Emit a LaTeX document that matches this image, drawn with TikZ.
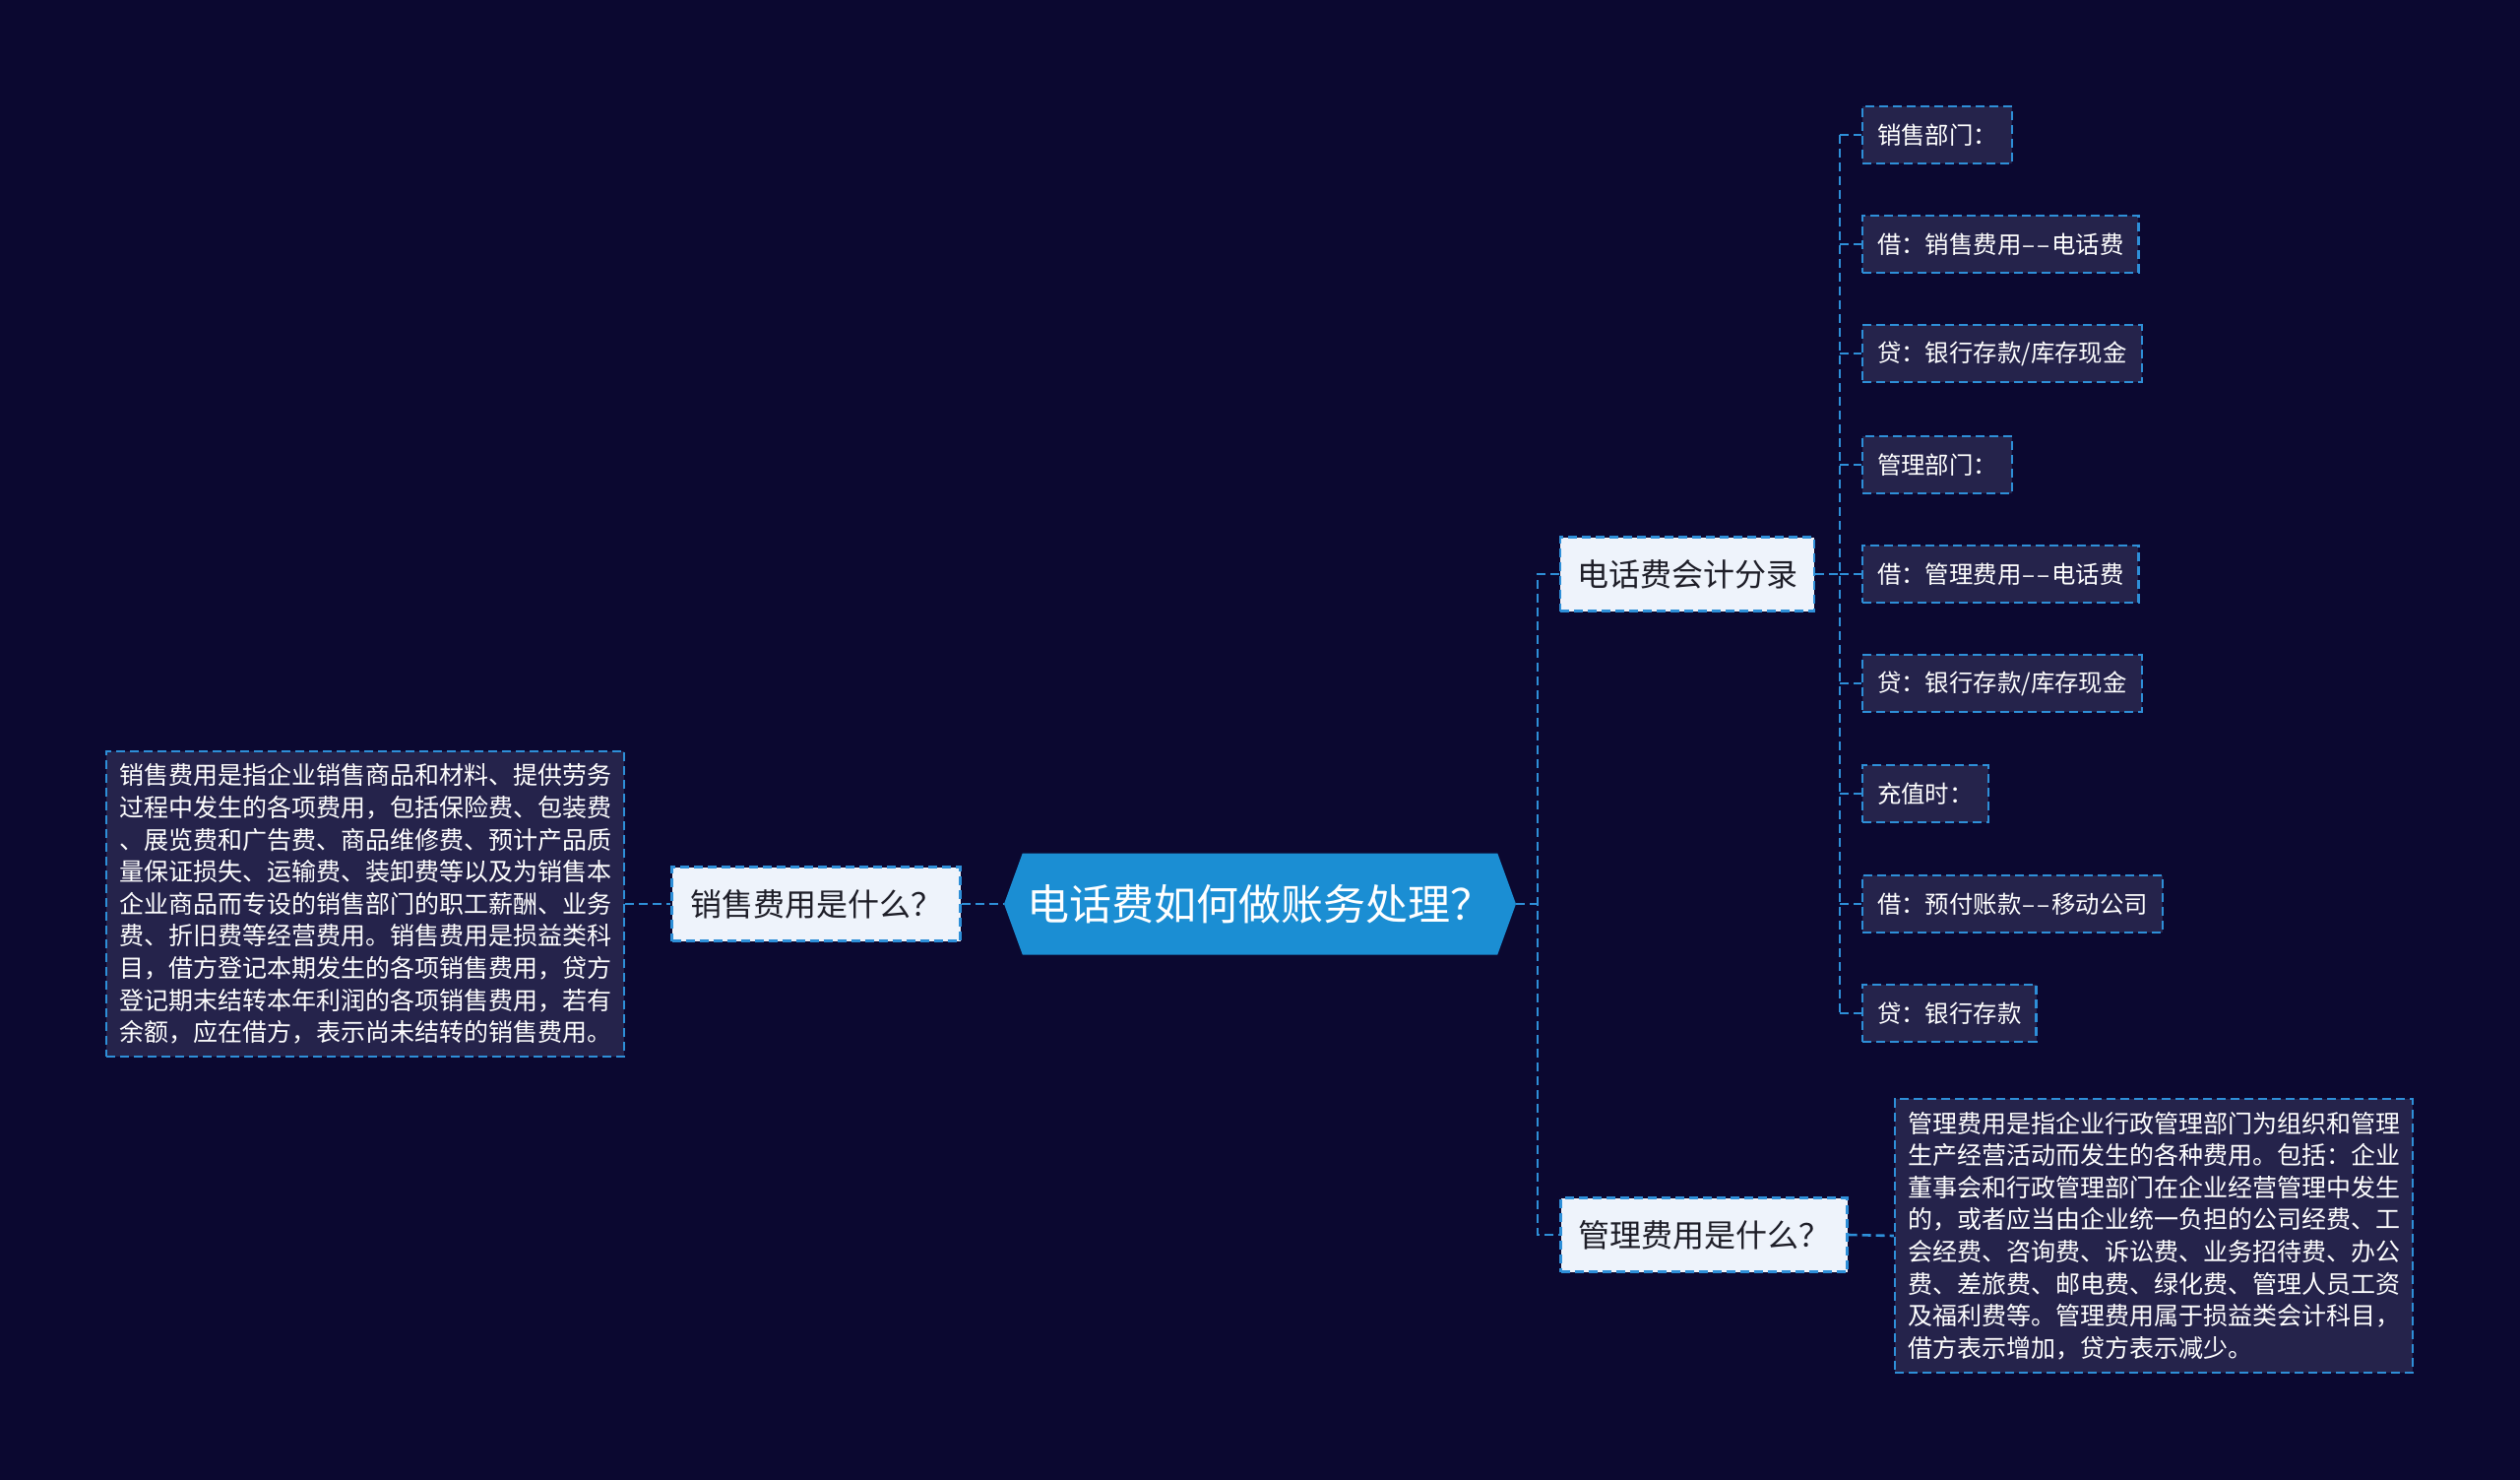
\documentclass[tikz,border=0pt]{standalone}
\usepackage{fontspec}
\setmainfont{Noto Sans CJK SC}
\usepackage{tikz}
\usetikzlibrary{shapes.symbols}
\definecolor{colorNavy}{HTML}{0B0830}
\definecolor{colorRoot}{HTML}{1B8ED3}
\definecolor{colorLink}{HTML}{2E8FD8}
\definecolor{colorPale}{HTML}{EEF3FB}
\definecolor{colorBox}{HTML}{25234B}
\definecolor{colorInk}{HTML}{1E1E28}
\newcommand{\dbldash}{\kern0.5pt\textendash\kern0.8pt\textendash\kern1pt}

\begin{document}
\begin{tikzpicture}[x=0.5pt, y=-0.5pt,
  link/.style={colorLink, line width=1.3pt, dash pattern=on 4.5pt off 2.5pt},
  palebox/.style={draw=colorLink, fill=colorPale, text=colorInk, line width=1.1pt,
    dash pattern=on 4.5pt off 2.5pt, minimum height=37.5pt, inner xsep=0pt,
    font={\fontsize{16pt}{19pt}\selectfont}},
  leafbox/.style={draw=colorLink, fill=colorBox, text=white, line width=1.1pt,
    dash pattern=on 4.5pt off 2.5pt, anchor=west, minimum height=29pt, inner xsep=7.5pt,
    font={\fontsize{12.2pt}{14pt}\selectfont}},
  notebox/.style={draw=colorLink, fill=colorBox, text=white, line width=1.1pt,
    dash pattern=on 4.5pt off 2.5pt, align=left, inner xsep=6.5pt, inner ysep=6.5pt,
    font={\fontsize{12.5pt}{16.3pt}\selectfont}}
]
\useasboundingbox (0,0) rectangle (2560,1503);
\fill[colorNavy] (0,0) rectangle (2560,1503);

% centre
\node[signal, signal to=west and east, signal pointer angle=140, fill=colorRoot,
  text=white, minimum width=260pt, minimum height=51.5pt, inner sep=0pt,
  font={\fontsize{21.5pt}{26pt}\selectfont}] (root) at (1280,918) {电话费如何做账务处理？};

% left side
\node[palebox, minimum width=146.5pt] (salesQ) at (829,918) {销售费用是什么？};
\node[notebox] (salesDef) at (371,918) {销售费用是指企业销售商品和材料、提供劳务\\
过程中发生的各项费用，包括保险费、包装费\\
、展览费和广告费、商品维修费、预计产品质\\
量保证损失、运输费、装卸费等以及为销售本\\
企业商品而专设的销售部门的职工薪酬、业务\\
费、折旧费等经营费用。销售费用是损益类科\\
目，借方登记本期发生的各项销售费用，贷方\\
登记期末结转本年利润的各项销售费用，若有\\
余额，应在借方，表示尚未结转的销售费用。};

\draw[link] (salesQ.east) -- (root.west);
\draw[link] (salesDef.east) -- (salesQ.west);

% right side
\coordinate (rtrunk) at (1562,918);
\node[palebox, minimum width=129pt] (entry) at (1714,583) {电话费会计分录};
\node[palebox, minimum width=145.5pt] (adminQ) at (1731,1254) {管理费用是什么？};
\node[notebox] (adminDef) at (2188,1255) {管理费用是指企业行政管理部门为组织和管理\\
生产经营活动而发生的各种费用。包括：企业\\
董事会和行政管理部门在企业经营管理中发生\\
的，或者应当由企业统一负担的公司经费、工\\
会经费、咨询费、诉讼费、业务招待费、办公\\
费、差旅费、邮电费、绿化费、管理人员工资\\
及福利费等。管理费用属于损益类会计科目，\\
借方表示增加，贷方表示减少。};

\draw[link] (root.east) -- (rtrunk);
\draw[link] (entry.west) -| (rtrunk) |- (adminQ.west);
\draw[link] (adminQ.east) -- (adminDef.west);

% entries
\coordinate (ltrunk) at (1869,583);
\foreach \i/\y/\txt in {1/137/{销售部门：}, 2/248/{借：销售费用\dbldash 电话费},
  3/359/{贷：银行存款/库存现金}, 4/472/{管理部门：}, 5/583/{借：管理费用\dbldash 电话费},
  6/694/{贷：银行存款/库存现金}, 7/806/{充值时：}, 8/918/{借：预付账款\dbldash 移动公司},
  9/1029/{贷：银行存款}}
  \node[leafbox] (leaf\i) at (1891,\y) {\txt};

\draw[link] (entry.east) -- (ltrunk);
\draw[link] (leaf1.west -| ltrunk) -- (leaf9.west -| ltrunk);
\foreach \i in {1,...,9}
  \draw[link] (leaf\i.west -| ltrunk) -- (leaf\i.west);

\end{tikzpicture}
\end{document}
